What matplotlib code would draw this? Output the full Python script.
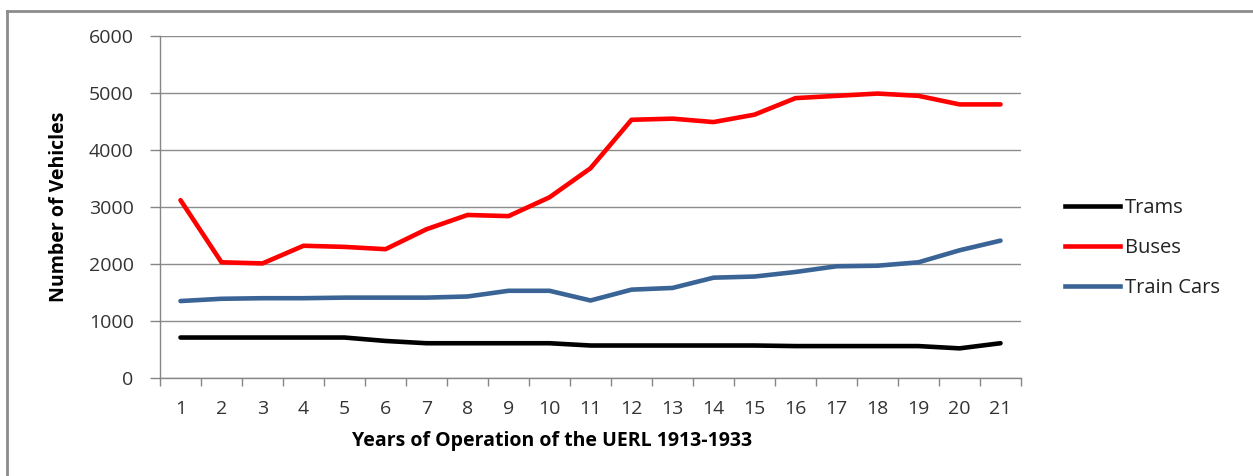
# coding=utf-8
# Vehicles operated by the UERL, 1913-1933
import numpy as np
import matplotlib as mpl
import matplotlib.pyplot as plt
from matplotlib.lines import Line2D

mpl.rcParams['font.family'] = ['Open Sans', 'DejaVu Sans']

years = list(range(1, 22))
trams = [710, 710, 710, 710, 710, 650, 610, 610, 610, 610, 570,
         570, 570, 570, 570, 560, 560, 560, 560, 520, 610]
buses = [3120, 2030, 2010, 2320, 2300, 2260, 2610, 2860, 2840, 3170, 3680,
         4530, 4550, 4490, 4620, 4910, 4950, 4990, 4950, 4800, 4800]
train_cars = [1350, 1390, 1400, 1400, 1410, 1410, 1410, 1430, 1530, 1530, 1360,
              1550, 1580, 1760, 1780, 1860, 1960, 1970, 2030, 2240, 2410]
labels = ['Trams', 'Buses', 'Train Cars']
colors = ['#000000', '#ff0000', '#3a6496']

if __name__ == '__main__':

    W, H = 1253, 476
    fig = plt.figure(figsize=(W / 100, H / 100), dpi=100)
    ax = fig.add_axes([160 / W, 1 - 378 / H, (1021 - 160) / W, (378 - 36) / H])

    x = np.arange(len(years))
    for ys, c in zip([trams, buses, train_cars], colors):
        ax.plot(x, ys, color=c, lw=3.3, solid_capstyle='round', solid_joinstyle='round', zorder=3)

    ax.set_xlim(-0.5, len(years) - 0.5)
    ax.set_ylim(0, 6000)
    ax.set_yticks(np.arange(0, 6001, 1000))
    ax.set_xticks(x)
    ax.set_xticklabels([str(y) for y in years])
    ax.set_xticks(np.arange(-0.5, len(years), 1), minor=True)
    ax.tick_params(axis='x', which='major', length=0, pad=16, labelsize=14, colors='#333333')
    ax.tick_params(axis='x', which='minor', length=6, width=1, color='#868686')
    ax.tick_params(axis='y', length=7, width=1, color='#868686', pad=12, labelsize=14, labelcolor='#333333')

    ax.grid(axis='y', color='#8c8c8c', lw=1)
    ax.set_axisbelow(True)
    for s in ['top', 'right']:
        ax.spines[s].set_visible(False)
    for s in ['left', 'bottom']:
        ax.spines[s].set_color('#868686')
        ax.spines[s].set_linewidth(1)

    ax.set_ylabel('Number of Vehicles', fontsize=14, fontweight='bold')
    ax.yaxis.set_label_coords(-(160 - 69) / 861, 0.5)
    ax.set_xlabel('Years of Operation of the UERL 1913-1933', fontsize=14, fontweight='bold', va='center')
    ax.xaxis.set_label_coords((552 - 160) / 861, -(441 - 378) / 342)

    # Legend
    handles = [Line2D([0], [0], color=c, lw=3.3) for c in colors]
    ax.legend(handles, labels, loc='center left', bbox_to_anchor=(1047 / W, 1 - 248 / H),
              bbox_transform=fig.transFigure, frameon=False, fontsize=14.5,
              handlelength=2.7, handletextpad=0.25, labelspacing=1.0, labelcolor='#222222')

    # Outer chart border (top and left visible)
    fig.add_artist(Line2D([7 / W, 7 / W], [0, 1 - 11 / H], transform=fig.transFigure, color='#8c8c8c', lw=2))
    fig.add_artist(Line2D([7 / W, 1], [1 - 11 / H, 1 - 11 / H], transform=fig.transFigure, color='#8c8c8c', lw=2))

    fig.savefig('out.png', dpi=100)
    plt.close()
